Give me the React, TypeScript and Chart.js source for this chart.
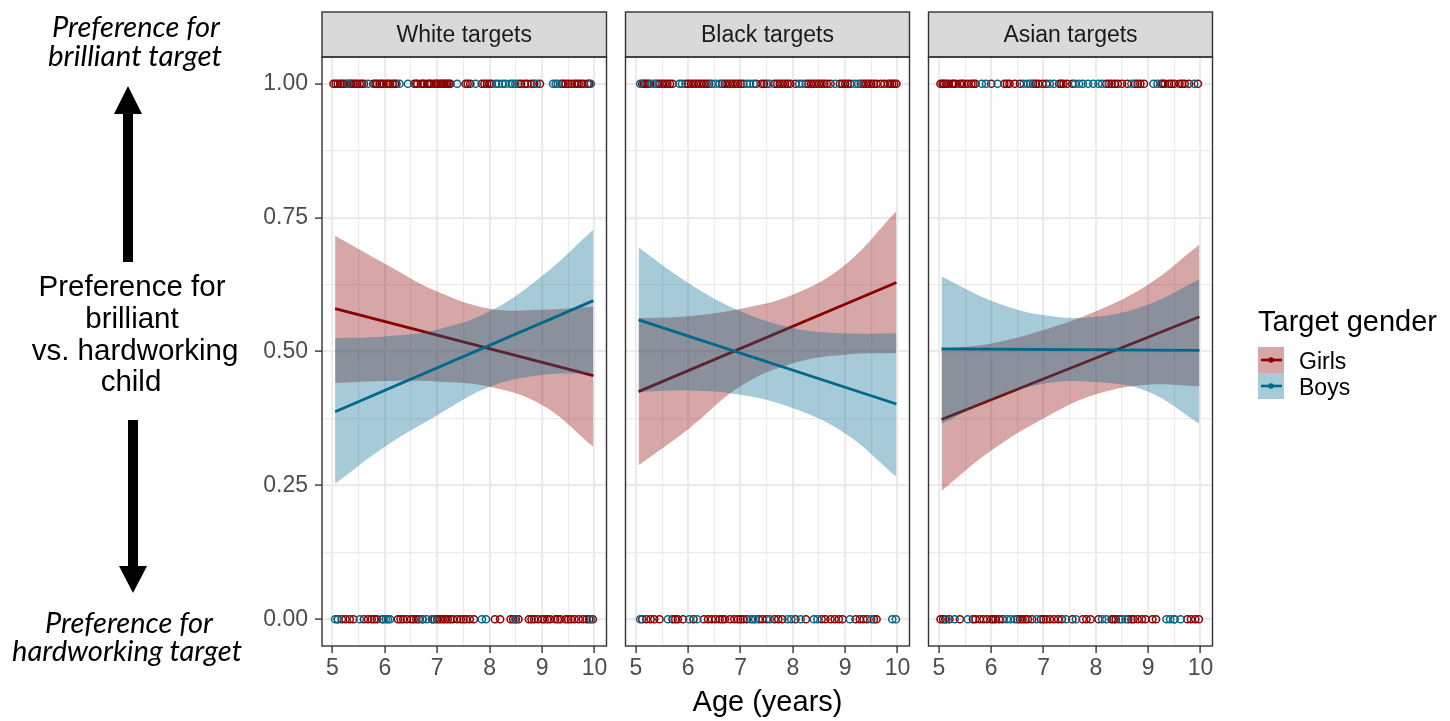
import React, { useEffect, useRef } from "react";
import { Chart, registerables } from "chart.js";

Chart.register(...registerables);

const FONT = "'Liberation Sans', Arial, Helvetica, sans-serif";
const RED = "#8B0000";
const BLUE = "#00688B";
const RED_FILL = "rgba(139,0,0,0.35)";
const BLUE_FILL = "rgba(0,104,139,0.35)";

// ---------- data ----------
const panelTitles = ["White targets", "Black targets", "Asian targets"];
const ribbonAges = [5.05, 6, 7, 8, 9, 9.98];
const lineAges = [5.05, 9.98];
const xTickLabels = ["5", "6", "7", "8", "9", "10"];
const yTickLabels = ["0.00", "0.25", "0.50", "0.75", "1.00"];

// White targets
const whiteGirlsFit = [0.58, 0.455];
const whiteGirlsUpper = [0.716, 0.664, 0.612, 0.58, 0.578, 0.584];
const whiteGirlsLower = [0.441, 0.445, 0.444, 0.434, 0.4, 0.322];
const whiteBoysFit = [0.3875, 0.595];
const whiteBoysUpper = [0.525, 0.528, 0.541, 0.575, 0.641, 0.728];
const whiteBoysLower = [0.253, 0.322, 0.381, 0.434, 0.456, 0.459];
const whiteGirlsTop = [5.02, 5.06, 5.1, 5.15, 5.18, 5.22, 5.27, 5.33, 5.36, 5.4, 5.44, 5.47, 5.52, 5.56, 5.6, 5.78, 5.82, 5.85, 5.9, 5.94, 5.97, 6.03, 6.06, 6.1, 6.15, 6.19, 6.22, 6.56, 6.6, 6.62, 6.69, 6.72, 6.75, 6.81, 6.85, 6.88, 6.94, 6.97, 7.0, 7.04, 7.07, 7.1, 7.13, 7.16, 7.19, 7.22, 7.25, 7.54, 7.58, 7.63, 7.85, 7.9, 7.95, 8.0, 8.04, 8.55, 8.6, 8.67, 8.72, 8.8, 8.85, 8.96, 9.37, 9.4, 9.45, 9.5, 9.56, 9.62, 9.66, 9.7, 9.75, 9.8, 9.87, 9.9];
const whiteBoysTop = [5.3, 5.68, 6.28, 6.44, 7.38, 7.73, 8.12, 8.17, 8.24, 8.3, 8.39, 8.44, 8.49, 8.9, 9.21, 9.26, 9.3, 9.93];
const whiteGirlsBottom = [5.1, 5.18, 5.25, 5.33, 5.4, 5.6, 5.68, 5.75, 5.8, 5.85, 5.95, 6.25, 6.3, 6.35, 6.42, 6.5, 6.55, 6.6, 6.65, 6.72, 6.9, 6.95, 7.0, 7.05, 7.1, 7.15, 7.2, 7.25, 7.3, 7.38, 7.45, 7.5, 7.55, 7.62, 7.7, 8.1, 8.2, 8.4, 8.45, 8.5, 8.55, 8.75, 8.8, 8.85, 8.92, 9.0, 9.05, 9.1, 9.15, 9.25, 9.3, 9.35, 9.45, 9.5, 9.55, 9.62, 9.7, 9.78, 9.85, 9.9, 9.97];
const whiteBoysBottom = [5.05, 5.1, 5.52, 5.97, 6.02, 6.06, 6.1, 6.72, 6.8, 6.91, 7.85, 7.93, 8.49, 9.93];

// Black targets
const blackGirlsFit = [0.425, 0.629];
const blackGirlsUpper = [0.5625, 0.566, 0.58, 0.606, 0.662, 0.7625];
const blackGirlsLower = [0.2875, 0.355, 0.435, 0.478, 0.494, 0.497];
const blackBoysFit = [0.559, 0.402];
const blackBoysUpper = [0.694, 0.628, 0.575, 0.544, 0.534, 0.534];
const blackBoysLower = [0.425, 0.427, 0.419, 0.394, 0.347, 0.266];
const blackGirlsTop = [5.12, 5.15, 5.18, 5.22, 5.25, 5.4, 5.45, 5.5, 5.55, 5.6, 5.65, 5.7, 5.95, 6.0, 6.05, 6.1, 6.15, 6.2, 6.25, 6.3, 6.35, 6.4, 6.65, 6.7, 6.75, 6.8, 6.85, 6.9, 6.95, 7.0, 7.05, 7.3, 7.4, 7.45, 7.5, 7.65, 7.7, 7.75, 7.8, 7.85, 7.9, 7.95, 8.05, 8.25, 8.3, 8.35, 8.4, 8.45, 8.5, 8.55, 8.6, 8.65, 8.72, 8.9, 8.95, 9.0, 9.05, 9.1, 9.3, 9.35, 9.4, 9.45, 9.5, 9.55, 9.6, 9.68, 9.75, 9.82, 9.86, 9.9, 9.94, 9.98];
const blackBoysTop = [5.08, 5.3, 5.36, 5.83, 5.88, 6.45, 6.52, 6.6, 7.12, 7.18, 7.25, 7.56, 8.12, 8.18, 8.81, 9.18, 9.25];
const blackGirlsBottom = [5.12, 5.2, 5.28, 5.35, 5.45, 5.7, 5.75, 5.8, 5.9, 6.1, 6.3, 6.38, 6.45, 6.52, 6.6, 6.65, 6.7, 6.8, 6.88, 6.95, 7.0, 7.05, 7.12, 7.35, 7.42, 7.5, 7.65, 7.72, 7.8, 8.05, 8.25, 8.55, 8.62, 8.72, 8.8, 8.88, 8.95, 9.2, 9.28, 9.35, 9.42, 9.55, 9.6];
const blackBoysBottom = [5.08, 5.61, 6.02, 6.17, 7.2, 7.24, 7.28, 7.56, 7.9, 7.97, 8.15, 8.4, 8.47, 9.09, 9.5, 9.9, 9.97];

// Asian targets
const asianGirlsFit = [0.373, 0.565];
const asianGirlsUpper = [0.505, 0.515, 0.54, 0.575, 0.625, 0.7];
const asianGirlsLower = [0.24, 0.315, 0.375, 0.42, 0.438, 0.435];
const asianBoysFit = [0.505, 0.502];
const asianBoysUpper = [0.64, 0.595, 0.568, 0.565, 0.588, 0.635];
const asianBoysLower = [0.365, 0.41, 0.44, 0.443, 0.425, 0.365];
const asianGirlsTop = [5.03, 5.07, 5.1, 5.14, 5.18, 5.25, 5.28, 5.32, 5.4, 5.44, 5.48, 5.55, 5.62, 5.66, 5.7, 6.0, 6.25, 6.3, 6.35, 6.45, 6.55, 6.8, 6.85, 6.9, 6.98, 7.05, 7.3, 7.34, 7.38, 7.45, 7.55, 8.2, 8.25, 8.3, 8.36, 8.42, 8.5, 8.6, 8.75, 8.8, 8.85, 8.92, 9.25, 9.28, 9.32, 9.4, 9.45, 9.5, 9.6, 9.65, 9.7, 9.78, 9.95];
const asianBoysTop = [5.82, 5.9, 6.12, 6.62, 6.7, 6.75, 7.12, 7.2, 7.6, 7.68, 7.75, 7.85, 7.95, 8.05, 8.12, 8.68, 9.1, 9.18, 9.88];
const asianGirlsBottom = [5.03, 5.08, 5.12, 5.2, 5.4, 5.65, 5.7, 5.78, 5.85, 5.92, 6.0, 6.04, 6.08, 6.15, 6.22, 6.5, 6.55, 6.6, 6.65, 6.7, 6.78, 6.95, 7.0, 7.05, 7.12, 7.2, 7.28, 7.35, 7.55, 7.75, 7.82, 7.9, 8.05, 8.3, 8.34, 8.38, 8.45, 8.62, 8.68, 8.72, 8.8, 8.88, 8.95, 9.08, 9.15, 9.5, 9.75, 9.82, 9.9, 9.97];
const asianBoysBottom = [5.14, 5.3, 5.55, 6.3, 6.37, 6.45, 6.87, 7.43, 7.62, 8.12, 8.2, 8.5, 8.57, 9.35, 9.42, 9.5, 9.62];

const panels = [
  { girlsFit: whiteGirlsFit, girlsUpper: whiteGirlsUpper, girlsLower: whiteGirlsLower, boysFit: whiteBoysFit, boysUpper: whiteBoysUpper, boysLower: whiteBoysLower, girlsTop: whiteGirlsTop, boysTop: whiteBoysTop, girlsBottom: whiteGirlsBottom, boysBottom: whiteBoysBottom },
  { girlsFit: blackGirlsFit, girlsUpper: blackGirlsUpper, girlsLower: blackGirlsLower, boysFit: blackBoysFit, boysUpper: blackBoysUpper, boysLower: blackBoysLower, girlsTop: blackGirlsTop, boysTop: blackBoysTop, girlsBottom: blackGirlsBottom, boysBottom: blackBoysBottom },
  { girlsFit: asianGirlsFit, girlsUpper: asianGirlsUpper, girlsLower: asianGirlsLower, boysFit: asianBoysFit, boysUpper: asianBoysUpper, boysLower: asianBoysLower, girlsTop: asianGirlsTop, boysTop: asianBoysTop, girlsBottom: asianGirlsBottom, boysBottom: asianBoysBottom },
];

// ---------- helpers ----------
const xy = (xs: number[], ys: number[]) => xs.map((x, i) => ({ x, y: ys[i] }));
const pts = (top: number[], bottom: number[]) => [
  ...top.map((x) => ({ x, y: 1 })),
  ...bottom.map((x) => ({ x, y: 0 })),
];
const isMajorX = (v: number) => Math.abs(v - Math.round(v)) < 1e-6;
const isMajorY = (v: number) => Math.abs(v * 4 - Math.round(v * 4)) < 1e-6;

const CANVAS_TOP = 10;
const CANVAS_H = 721 - CANVAS_TOP;
const PLOT_TOP = 57;
const PLOT_BOTTOM = 646;
const STRIP_H = 45;

const stripPlugin = (title: string) => ({
  id: "strip",
  afterDraw(chart: any) {
    const { ctx, chartArea } = chart;
    const { left, right, top, bottom } = chartArea;
    ctx.save();
    ctx.fillStyle = "#d9d9d9";
    ctx.fillRect(left, top - STRIP_H, right - left, STRIP_H);
    ctx.strokeStyle = "#333333";
    ctx.lineWidth = 1.4;
    ctx.strokeRect(left, top - STRIP_H, right - left, STRIP_H);
    ctx.strokeRect(left, top, right - left, bottom - top);
    ctx.fillStyle = "#1a1a1a";
    ctx.font = `23px ${FONT}`;
    ctx.textAlign = "center";
    ctx.textBaseline = "middle";
    ctx.fillText(title, (left + right) / 2, top - STRIP_H / 2 + 1);
    ctx.restore();
  },
});

type PanelProps = { idx: number; plotLeft: number; plotRight: number; showY: boolean; showXTitle: boolean };

function Panel({ idx, plotLeft, plotRight, showY, showXTitle }: PanelProps) {
  const ref = useRef<HTMLCanvasElement | null>(null);
  const yAxisW = showY ? 96 : 4;
  const padRight = 3;
  const canvasLeft = plotLeft - yAxisW;
  const canvasW = plotRight + padRight - canvasLeft;

  useEffect(() => {
    const p = panels[idx];
    const ribbon = { borderWidth: 0, pointRadius: 0, tension: 0.4 };
    const ptStyle = { showLine: false, pointRadius: 3.6, pointBorderWidth: 1.5, pointBackgroundColor: "rgba(255,255,255,0)", fill: false };
    const chart = new Chart(ref.current as HTMLCanvasElement, {
      type: "line",
      data: {
        datasets: [
          { label: "Boys", data: xy(lineAges, p.boysFit), borderColor: BLUE, borderWidth: 2.8, pointRadius: 0, fill: false },
          { label: "boysUpper", data: xy(ribbonAges, p.boysUpper), ...ribbon, backgroundColor: BLUE_FILL, fill: "+1" },
          { label: "boysLower", data: xy(ribbonAges, p.boysLower), ...ribbon, fill: false },
          { label: "Girls", data: xy(lineAges, p.girlsFit), borderColor: RED, borderWidth: 2.8, pointRadius: 0, fill: false },
          { label: "girlsUpper", data: xy(ribbonAges, p.girlsUpper), ...ribbon, backgroundColor: RED_FILL, fill: "+1" },
          { label: "girlsLower", data: xy(ribbonAges, p.girlsLower), ...ribbon, fill: false },
          { label: "boysPts", data: pts(p.boysTop, p.boysBottom), ...ptStyle, pointBorderColor: BLUE },
          { label: "girlsPts", data: pts(p.girlsTop, p.girlsBottom), ...ptStyle, pointBorderColor: RED },
        ] as any,
      },
      options: {
        animation: false,
        responsive: false,
        devicePixelRatio: 1,
        events: [],
        layout: { padding: { left: 0, right: padRight, top: PLOT_TOP - CANVAS_TOP, bottom: 0 } },
        plugins: { legend: { display: false }, tooltip: { enabled: false }, filler: { propagate: false } as any },
        scales: {
          x: {
            type: "linear",
            min: 4.8,
            max: 10.23,
            afterFit: (s: any) => { s.height = CANVAS_H - (PLOT_BOTTOM - CANVAS_TOP); },
            border: { display: false },
            ticks: {
              stepSize: 0.5,
              autoSkip: false,
              includeBounds: false,
              maxRotation: 0,
              padding: 2,
              color: "#4d4d4d",
              font: { size: 23, family: FONT },
              callback: (v: any) => (isMajorX(Number(v)) ? xTickLabels[Math.round(Number(v)) - 5] : ""),
            },
            grid: {
              color: "#ebebeb",
              lineWidth: (c: any) => (c.tick && isMajorX(c.tick.value) ? 2.2 : 1.2),
              tickLength: 7,
              tickColor: (c: any) => (c.tick && isMajorX(c.tick.value) ? "#333333" : "rgba(0,0,0,0)"),
              tickWidth: 1.4,
            } as any,
            title: {
              display: showXTitle,
              text: "Age (years)",
              color: "#000000",
              font: { size: 29, family: FONT },
              padding: { top: 0, bottom: 1 },
            },
          },
          y: {
            type: "linear",
            min: -0.05,
            max: 1.05,
            afterFit: (s: any) => { s.width = yAxisW; },
            border: { display: false },
            ticks: {
              display: showY,
              stepSize: 0.125,
              autoSkip: false,
              includeBounds: false,
              padding: 7,
              color: "#4d4d4d",
              font: { size: 23, family: FONT },
              callback: (v: any) => (isMajorY(Number(v)) ? yTickLabels[Math.round(Number(v) * 4)] : ""),
            },
            grid: {
              color: "#ebebeb",
              lineWidth: (c: any) => (c.tick && isMajorY(c.tick.value) ? 2.2 : 1.2),
              drawTicks: showY,
              tickLength: showY ? 7 : 0,
              tickColor: (c: any) => (c.tick && isMajorY(c.tick.value) ? "#333333" : "rgba(0,0,0,0)"),
              tickWidth: 1.4,
            } as any,
          },
        },
      },
      plugins: [stripPlugin(panelTitles[idx])],
    });
    return () => chart.destroy();
  }, [idx]);

  return (
    <canvas
      ref={ref}
      width={canvasW}
      height={CANVAS_H}
      style={{ position: "fixed", left: canvasLeft, top: CANVAS_TOP, width: canvasW, height: CANVAS_H }}
    />
  );
}

const LATO = "Lato, 'Open Sans', sans-serif";

export default function App() {
  return (
    <div style={{ position: "fixed", left: 0, top: 0, width: 1450, height: 721, background: "#ffffff", fontFamily: FONT }}>
      <Panel idx={0} plotLeft={322} plotRight={609} showY={true} showXTitle={false} />
      <Panel idx={1} plotLeft={624} plotRight={912} showY={false} showXTitle={true} />
      <Panel idx={2} plotLeft={927} plotRight={1215} showY={false} showXTitle={false} />
      <svg width={1450} height={721} style={{ position: "fixed", left: 0, top: 0, pointerEvents: "none" }}>
        {/* left annotation */}
        <g fontFamily={LATO} fontStyle="italic" fontSize={28} fill="#000" textAnchor="middle">
          <text x={136} y={37} textLength={168} lengthAdjust="spacingAndGlyphs">Preference for</text>
          <text x={135} y={66} textLength={174} lengthAdjust="spacingAndGlyphs">brilliant target</text>
          <text x={129} y={633} textLength={168} lengthAdjust="spacingAndGlyphs">Preference for</text>
          <text x={127} y={661} textLength={230} lengthAdjust="spacingAndGlyphs">hardworking target</text>
        </g>
        <g fontFamily={FONT} fontSize={29.5} fill="#000" textAnchor="middle">
          <text x={132} y={296}>Preference for</text>
          <text x={132} y={328}>brilliant</text>
          <text x={135} y={360}>vs. hardworking</text>
          <text x={131} y={391}>child</text>
        </g>
        <rect x={123} y={110} width={10} height={152} fill="#000" />
        <polygon points="128,86 114,114 142,114" fill="#000" />
        <rect x={128} y={420} width={10} height={148} fill="#000" />
        <polygon points="119,566 147,566 133,593" fill="#000" />
        {/* legend */}
        <text x={1258} y={331} fontFamily={FONT} fontSize={29} fill="#000">Target gender</text>
        <rect x={1258} y={347} width={26} height={26} fill={RED_FILL} />
        <rect x={1258} y={373} width={26} height={26} fill={BLUE_FILL} />
        <line x1={1261} y1={360} x2={1282} y2={360} stroke={RED} strokeWidth={2.6} />
        <circle cx={1271} cy={360} r={2.8} fill={RED} />
        <line x1={1261} y1={386} x2={1282} y2={386} stroke={BLUE} strokeWidth={2.6} />
        <circle cx={1271} cy={386} r={2.8} fill={BLUE} />
        <text x={1299} y={369} fontFamily={FONT} fontSize={23} fill="#000">Girls</text>
        <text x={1299} y={395} fontFamily={FONT} fontSize={23} fill="#000">Boys</text>
      </svg>
    </div>
  );
}
